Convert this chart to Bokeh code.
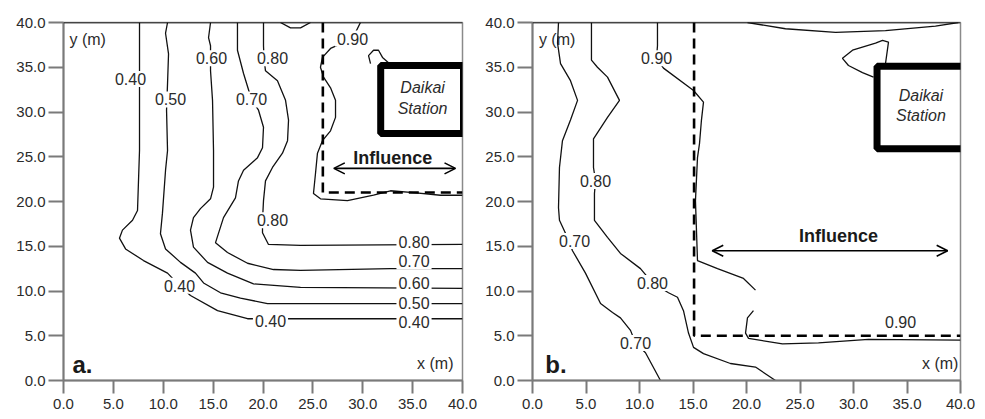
from bokeh.plotting import figure
from bokeh.layouts import row
from bokeh.models import (ColumnDataSource, Label, Arrow, OpenHead, FixedTicker,
                          PrintfTickFormatter, Span, BoxAnnotation)
from bokeh.core.properties import value
from bokeh.embed import file_html
from bokeh.resources import INLINE

FONT = "Liberation Sans"
ticks = [0.0, 5.0, 10.0, 15.0, 20.0, 25.0, 30.0, 35.0, 40.0]

# ---------------- Panel a: contour lines (x m, y m) ----------------
a_040_x = [7.62, 7.62, 7.42, 6.92, 5.91, 5.61, 6.22, 8.02, 10.43, 11.63, 12.73, 15.44, 18.45, 40.0]
a_040_y = [40.0, 25.7, 19.0, 17.9, 16.8, 15.9, 14.7, 13.4, 12.0, 10.6, 9.5, 7.8, 6.9, 6.9]
a_050_x = [10.43, 10.23, 10.53, 10.43, 10.33, 10.43, 10.23, 9.92, 9.72, 10.23, 11.73, 13.23, 14.04, 15.74, 17.74, 20.45, 40.0]
a_050_y = [40.0, 38.8, 36.5, 33.2, 30.2, 25.7, 23.5, 18.7, 16.4, 14.7, 13.2, 12.0, 10.9, 9.8, 9.2, 8.6, 8.6]
a_060_x = [14.74, 14.54, 14.74, 14.74, 14.94, 15.04, 15.04, 14.74, 13.73, 13.03, 12.73, 13.03, 14.44, 16.44, 19.05, 23.76, 40.0]
a_060_y = [40.0, 38.3, 37.4, 34.6, 31.3, 25.7, 21.6, 20.3, 19.2, 18.2, 16.8, 14.9, 13.2, 12.0, 10.8, 10.4, 10.3]
a_070_x = [17.44, 17.44, 18.05, 18.85, 19.55, 20.05, 19.95, 19.45, 18.05, 17.54, 17.24, 16.04, 15.24, 16.44, 18.45, 21.05, 23.76, 32.78, 40.0]
a_070_y = [40.0, 36.9, 34.3, 31.4, 30.2, 28.3, 26.0, 24.9, 23.5, 22.3, 20.4, 18.2, 15.4, 14.3, 13.1, 12.4, 12.3, 12.5, 12.5]
a_080_x = [20.05, 20.05, 20.1, 20.25, 21.45, 22.26, 22.56, 22.46, 21.95, 20.95, 20.25, 20.05, 19.95, 19.95, 20.55, 23.76, 40.0]
a_080_y = [40.0, 37.4, 36.0, 34.6, 33.5, 31.3, 29.1, 26.8, 25.4, 23.8, 22.3, 20.1, 17.9, 16.5, 15.2, 15.1, 15.2]
a_090_x = [29.77, 28.97, 26.77, 25.96, 25.76, 26.07, 26.77, 27.27, 27.27, 26.77, 25.96, 25.46, 25.26, 25.06, 25.76, 28.47, 31.08, 32.78, 35.09, 37.79, 40.0]
a_090_y = [40.0, 38.2, 37.1, 36.1, 35.0, 33.9, 32.7, 31.3, 29.4, 27.9, 26.8, 25.4, 23.1, 20.9, 20.3, 20.1, 20.7, 21.2, 21.0, 20.7, 20.7]
a_bump_x = [21.75, 22.76, 23.76, 24.76]
a_bump_y = [40.0, 39.4, 39.4, 40.0]
a_hook_x = [30.78, 30.58, 31.08, 31.58, 31.98, 32.58]
a_hook_y = [35.4, 36.3, 36.9, 36.9, 36.1, 35.5]

a_lab_x = [6.72, 10.73, 14.84, 18.85, 20.95, 28.97, 20.95, 11.63, 20.75, 35.14, 35.14, 35.14, 35.14, 35.14]
a_lab_y = [33.7, 31.4, 36.0, 31.4, 36.0, 38.2, 17.9, 10.6, 6.7, 15.5, 13.3, 10.9, 8.7, 6.5]
a_lab_t = ["0.40", "0.50", "0.60", "0.70", "0.80", "0.90", "0.80", "0.40", "0.40",
           "0.80", "0.70", "0.60", "0.50", "0.40"]

a_dash_x = [26.0, 26.0, 40.0]
a_dash_y = [40.0, 21.0, 21.0]
a_arrow = [27.1, 39.3, 23.7]          # x start, x end, y
a_influence = [33.0, 24.9]
a_station = [31.8, 40.1, 27.6, 35.2]  # left, right, bottom, top
a_station_text = [36.0, 32.7, 30.4]   # x, y Daikai, y Station

# ---------------- Panel b ----------------
b_070_x = [2.43, 2.34, 2.62, 3.55, 4.21, 3.55, 2.80, 2.52, 2.43, 2.52, 3.18, 3.74, 4.95, 6.36, 7.48, 8.22, 9.16, 9.63, 10.56, 11.96]
b_070_y = [40.0, 37.7, 35.4, 33.5, 31.3, 29.1, 26.8, 23.8, 19.3, 17.9, 16.2, 14.5, 12.0, 8.6, 7.6, 7.0, 5.6, 4.2, 3.1, 0.0]
b_080_x = [5.51, 5.51, 6.07, 7.01, 8.13, 7.01, 5.70, 5.70, 5.89, 5.79, 5.79, 7.01, 8.22, 10.09, 11.21, 12.71, 13.55, 14.11, 14.58, 15.05, 15.98, 18.5, 20.84, 22.71]
b_080_y = [40.0, 35.8, 35.0, 33.9, 31.3, 29.4, 27.0, 23.8, 22.3, 20.9, 17.9, 16.0, 14.2, 12.5, 10.9, 9.8, 9.3, 7.8, 5.3, 3.7, 3.0, 1.9, 1.5, 0.0]
b_090_x = [11.68, 11.68, 11.59, 12.24, 15.05, 15.98, 15.79, 15.61, 15.42, 15.23, 15.42, 17.29, 19.72, 20.84]
b_090_y = [40.0, 37.4, 36.0, 34.9, 32.4, 31.1, 29.1, 26.5, 24.9, 20.1, 13.4, 12.5, 11.4, 10.1]
b_090b_x = [20.65, 20.09, 19.91, 20.19, 23.36, 26.73, 31.4, 40.0]
b_090b_y = [7.8, 7.0, 5.3, 4.7, 4.1, 4.2, 4.6, 4.5]
b_top_x = [20.09, 23.64, 28.32, 32.99, 37.66, 39.8]
b_top_y = [40.0, 39.3, 38.9, 39.1, 39.6, 40.0]
b_hook_x = [32.99, 33.27, 32.71, 32.06, 29.91, 28.97, 29.53, 30.84, 31.87]
b_hook_y = [35.4, 37.8, 38.0, 37.7, 36.9, 36.0, 35.2, 34.4, 33.9]

b_lab_x = [3.93, 9.63, 5.89, 11.21, 11.6, 34.4]
b_lab_y = [15.6, 4.2, 22.3, 10.9, 36.0, 6.5]
b_lab_t = ["0.70", "0.70", "0.80", "0.80", "0.90", "0.90"]

b_dash_x = [15.1, 15.1, 40.0]
b_dash_y = [40.0, 5.0, 5.0]
b_arrow = [16.8, 38.8, 14.5]
b_influence = [28.6, 16.2]
b_station = [32.2, 40.5, 25.9, 35.1]
b_station_text = [36.3, 31.8, 29.6]

TEXT_COLOR = "#2b2b2b"
AXIS_COLOR = "#7a7a7a"


def make_fig(width, border_left, border_right):
    p = figure(width=width, height=416, x_range=(0, 40), y_range=(0, 40),
               output_backend="svg", toolbar_location=None,
               min_border_left=border_left, min_border_right=border_right,
               min_border_top=22, min_border_bottom=36)
    p.grid.visible = False
    for ax in (p.xaxis[0], p.yaxis[0]):
        ax.ticker = FixedTicker(ticks=ticks)
        ax.formatter = PrintfTickFormatter(format="%.1f")
        ax.axis_line_color = AXIS_COLOR
        ax.axis_line_width = 2
        ax.major_tick_line_color = AXIS_COLOR
        ax.major_tick_line_width = 2
        ax.major_tick_in = 0
        ax.minor_tick_line_color = None
        ax.major_label_text_font = FONT
        ax.major_label_text_font_size = "15px"
        ax.major_label_text_color = TEXT_COLOR
    p.yaxis.major_tick_out = 15
    p.yaxis.major_label_standoff = 3
    p.xaxis.major_tick_out = 13
    p.xaxis.major_label_standoff = 5
    p.outline_line_color = "#8a8a8a"
    p.outline_line_width = 1.5
    p.add_layout(Span(location=40, dimension="width", line_color="black", line_width=1.5))
    return p


def decorate(p, lines, lab_x, lab_y, lab_t, dash_x, dash_y, arrow, infl,
             station, station_text, letter, letter_x, xm_x):
    p.multi_line(xs=[l[0] for l in lines], ys=[l[1] for l in lines],
                 line_color="#111111", line_width=1.3)
    p.line(dash_x, dash_y, line_color="black", line_width=2.6, line_dash="10 6")
    src = ColumnDataSource(dict(x=lab_x, y=lab_y, t=lab_t))
    p.text(x="x", y="y", text="t", source=src, text_font=value(FONT),
           text_font_size=value("16px"), text_color=TEXT_COLOR,
           text_align="center", text_baseline="middle",
           background_fill_color="white", padding=2)
    p.add_layout(BoxAnnotation(left=station[0], right=station[1],
                               bottom=station[2], top=station[3],
                               fill_alpha=0, line_color="black", line_alpha=1.0,
                               line_width=7))
    for yy, tt in ((station_text[1], "Daikai"), (station_text[2], "Station")):
        p.add_layout(Label(x=station_text[0], y=yy, text=tt, text_font=FONT,
                           text_font_size="16px", text_font_style="italic",
                           text_color=TEXT_COLOR, text_align="center",
                           text_baseline="middle"))
    p.add_layout(Arrow(x_start=arrow[0], y_start=arrow[2], x_end=arrow[1], y_end=arrow[2],
                       start=OpenHead(size=11, line_width=1.6),
                       end=OpenHead(size=11, line_width=1.6), line_width=1.6))
    p.add_layout(Label(x=infl[0], y=infl[1], text="Influence", text_font=FONT,
                       text_font_size="18px", text_font_style="bold",
                       text_color="#1a1a1a", text_align="center", text_baseline="middle"))
    p.add_layout(Label(x=letter_x, y=1.8, text=letter, text_font=FONT,
                       text_font_size="24px", text_font_style="bold",
                       text_color="#1a1a1a", text_align="left", text_baseline="middle"))
    p.add_layout(Label(x=xm_x, y=1.9, text="x (m)", text_font=FONT,
                       text_font_size="16px", text_color=TEXT_COLOR,
                       text_align="right", text_baseline="middle"))
    p.add_layout(Label(x=0.6, y=38.1, text="y (m)", text_font=FONT,
                       text_font_size="16px", text_color=TEXT_COLOR,
                       text_align="left", text_baseline="middle"))


pa = make_fig(480, 63, 18)
decorate(pa,
         [(a_040_x, a_040_y), (a_050_x, a_050_y), (a_060_x, a_060_y), (a_070_x, a_070_y),
          (a_080_x, a_080_y), (a_090_x, a_090_y), (a_bump_x, a_bump_y), (a_hook_x, a_hook_y)],
         a_lab_x, a_lab_y, a_lab_t, a_dash_x, a_dash_y, a_arrow, a_influence,
         a_station, a_station_text, "a.", 0.9, 39.1)

pb = make_fig(497, 52, 17)
decorate(pb,
         [(b_070_x, b_070_y), (b_080_x, b_080_y), (b_090_x, b_090_y), (b_090b_x, b_090b_y),
          (b_top_x, b_top_y), (b_hook_x, b_hook_y)],
         b_lab_x, b_lab_y, b_lab_t, b_dash_x, b_dash_y, b_arrow, b_influence,
         b_station, b_station_text, "b.", 1.2, 39.8)

layout = row(pa, pb)
open("out.html", "w").write(file_html(layout, INLINE))
